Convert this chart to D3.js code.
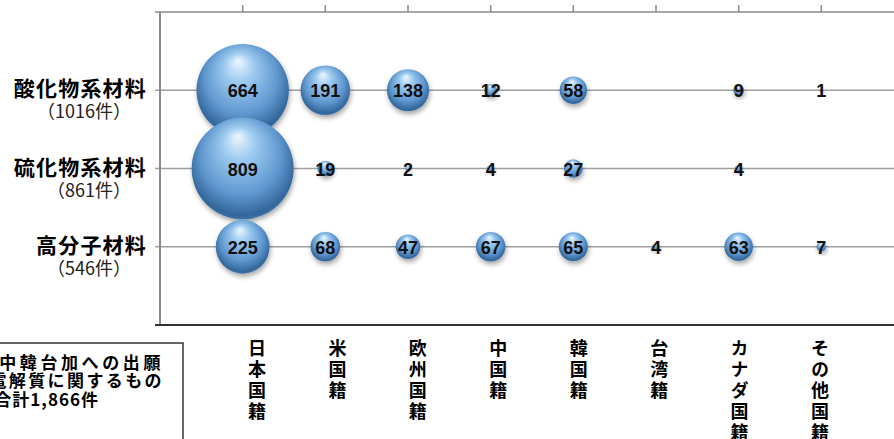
<!DOCTYPE html>
<html><head><meta charset="utf-8">
<script src="https://cdn.jsdelivr.net/npm/d3@7"></script>
<style>html,body{margin:0;padding:0;background:#fff;overflow:hidden}</style>
</head><body>
<svg id="chart" width="894" height="439"></svg>
<script>
const countries = ["日本国籍","米国籍","欧州国籍","中国籍","韓国籍","台湾籍","カナダ国籍","その他国籍"];
const materials = ["酸化物系材料","硫化物系材料","高分子材料"];
const materialTotals = ["（1016件）","（861件）","（546件）"];
const oxideValues   = [664,191,138,12,58,null,9,1];
const sulfideValues = [809,19,2,4,27,null,4,null];
const polymerValues = [225,68,47,67,65,4,63,7];
const noteLines = ["日米欧中韓台加への出願","固体電解質に関するもの","合計1,866件"];

const seriesValues = [oxideValues, sulfideValues, polymerValues];
const svg = d3.select("#chart");
const W = 894, H = 439;
const x = d3.scaleLinear().domain([0,9]).range([160,904]);
const y = d3.scaleLinear().domain([0,4]).range([325,12]);
const xLab = d3.scalePoint().domain(countries).range([257,820]);
const r = d3.scaleSqrt().domain([0,809]).range([0,51]);
const rowPos = [3,2,1];

const defs = svg.append("defs");
const g = defs.append("radialGradient").attr("id","ball")
  .attr("cx","50%").attr("cy","45%").attr("r","58%").attr("fx","45%").attr("fy","18%");
g.append("stop").attr("offset","0%").attr("stop-color","#eef7fe");
g.append("stop").attr("offset","28%").attr("stop-color","#9ccaf0");
g.append("stop").attr("offset","68%").attr("stop-color","#5f97cf");
g.append("stop").attr("offset","92%").attr("stop-color","#33669a");
g.append("stop").attr("offset","100%").attr("stop-color","#4a7fb4");
const f = defs.append("filter").attr("id","shadow").attr("x","-30%").attr("y","-30%").attr("width","160%").attr("height","170%");
f.append("feDropShadow").attr("dx",1).attr("dy",3).attr("stdDeviation",2.5).attr("flood-color","#000").attr("flood-opacity",0.35);

// axes frame
svg.append("line").attr("x1",155).attr("x2",W).attr("y1",y(4)).attr("y2",y(4)).attr("stroke","#8a8a8a").attr("stroke-width",1.5);
svg.selectAll("line.tick").data(d3.range(1,9)).join("line").attr("class","tick")
  .attr("x1",d=>x(d)).attr("x2",d=>x(d)).attr("y1",y(4)-7).attr("y2",y(4)).attr("stroke","#8a8a8a").attr("stroke-width",1.5);
svg.selectAll("line.grid").data(rowPos).join("line").attr("class","grid")
  .attr("x1",155).attr("x2",W).attr("y1",d=>y(d)).attr("y2",d=>y(d)).attr("stroke","#a0a0a0").attr("stroke-width",1.5);
svg.append("line").attr("x1",x(0)).attr("x2",x(0)).attr("y1",y(4)).attr("y2",y(0)).attr("stroke","#8a8a8a").attr("stroke-width",2);
svg.append("line").attr("x1",155).attr("x2",W).attr("y1",y(0)).attr("y2",y(0)).attr("stroke","#333").attr("stroke-width",2);

// bubbles
seriesValues.forEach((vals,si)=>{
  const data = vals.map((v,i)=>({v,i})).filter(d=>d.v!=null);
  svg.append("g").selectAll("circle").data(data).join("circle")
    .attr("cx",d=>x(d.i+1)).attr("cy",y(rowPos[si])).attr("r",d=>r(d.v))
    .attr("fill","url(#ball)").attr("filter","url(#shadow)");
});
seriesValues.forEach((vals,si)=>{
  const data = vals.map((v,i)=>({v,i})).filter(d=>d.v!=null);
  svg.append("g").selectAll("text").data(data).join("text")
    .attr("x",d=>x(d.i+1)).attr("y",y(rowPos[si])+7)
    .attr("text-anchor","middle").attr("font-family","Liberation Sans, Arial, sans-serif")
    .attr("font-weight","bold").attr("font-size",18).attr("fill","#111")
    .text(d=>d.v);
});

// row labels (label + total in one text)
const rl = svg.append("g").attr("font-family","Noto Sans CJK JP, sans-serif").attr("fill","#000");
materials.forEach((m,i)=>{
  const t = rl.append("text").attr("text-anchor","end");
  t.append("tspan").attr("x",147).attr("y",y(rowPos[i])+6)
    .attr("font-weight","bold").attr("font-size",21).attr("letter-spacing",1.2).text(m);
  t.append("tspan").attr("x",131).attr("y",y(rowPos[i])+28)
    .attr("font-size",18).attr("fill","#222").text(materialTotals[i]);
});

// country labels (vertical)
const cl = svg.append("g").attr("font-family","Noto Sans CJK JP, sans-serif").attr("font-weight","bold").attr("font-size",18).attr("fill","#000");
cl.selectAll("text").data(countries).join("text")
  .attr("x",d=>xLab(d)).attr("y",339)
  .style("writing-mode","vertical-rl").style("text-orientation","upright")
  .attr("letter-spacing",3).text(d=>d);

// note box
svg.append("rect").attr("x",-10).attr("y",343).attr("width",193).attr("height",110)
  .attr("fill","#fff").attr("stroke","#333").attr("stroke-width",1.5);
const nt = svg.append("text").attr("font-family","Noto Sans CJK JP, sans-serif").attr("font-weight","bold").attr("font-size",17).attr("fill","#000").attr("text-anchor","end");
nt.append("tspan").attr("x",164).attr("y",369).attr("letter-spacing",3.6).text(noteLines[0]);
nt.append("tspan").attr("x",164).attr("y",387).attr("letter-spacing",2.4).text(noteLines[1]);
nt.append("tspan").attr("x",99).attr("y",406).attr("letter-spacing",1).text(noteLines[2]);
</script>
</body></html>
